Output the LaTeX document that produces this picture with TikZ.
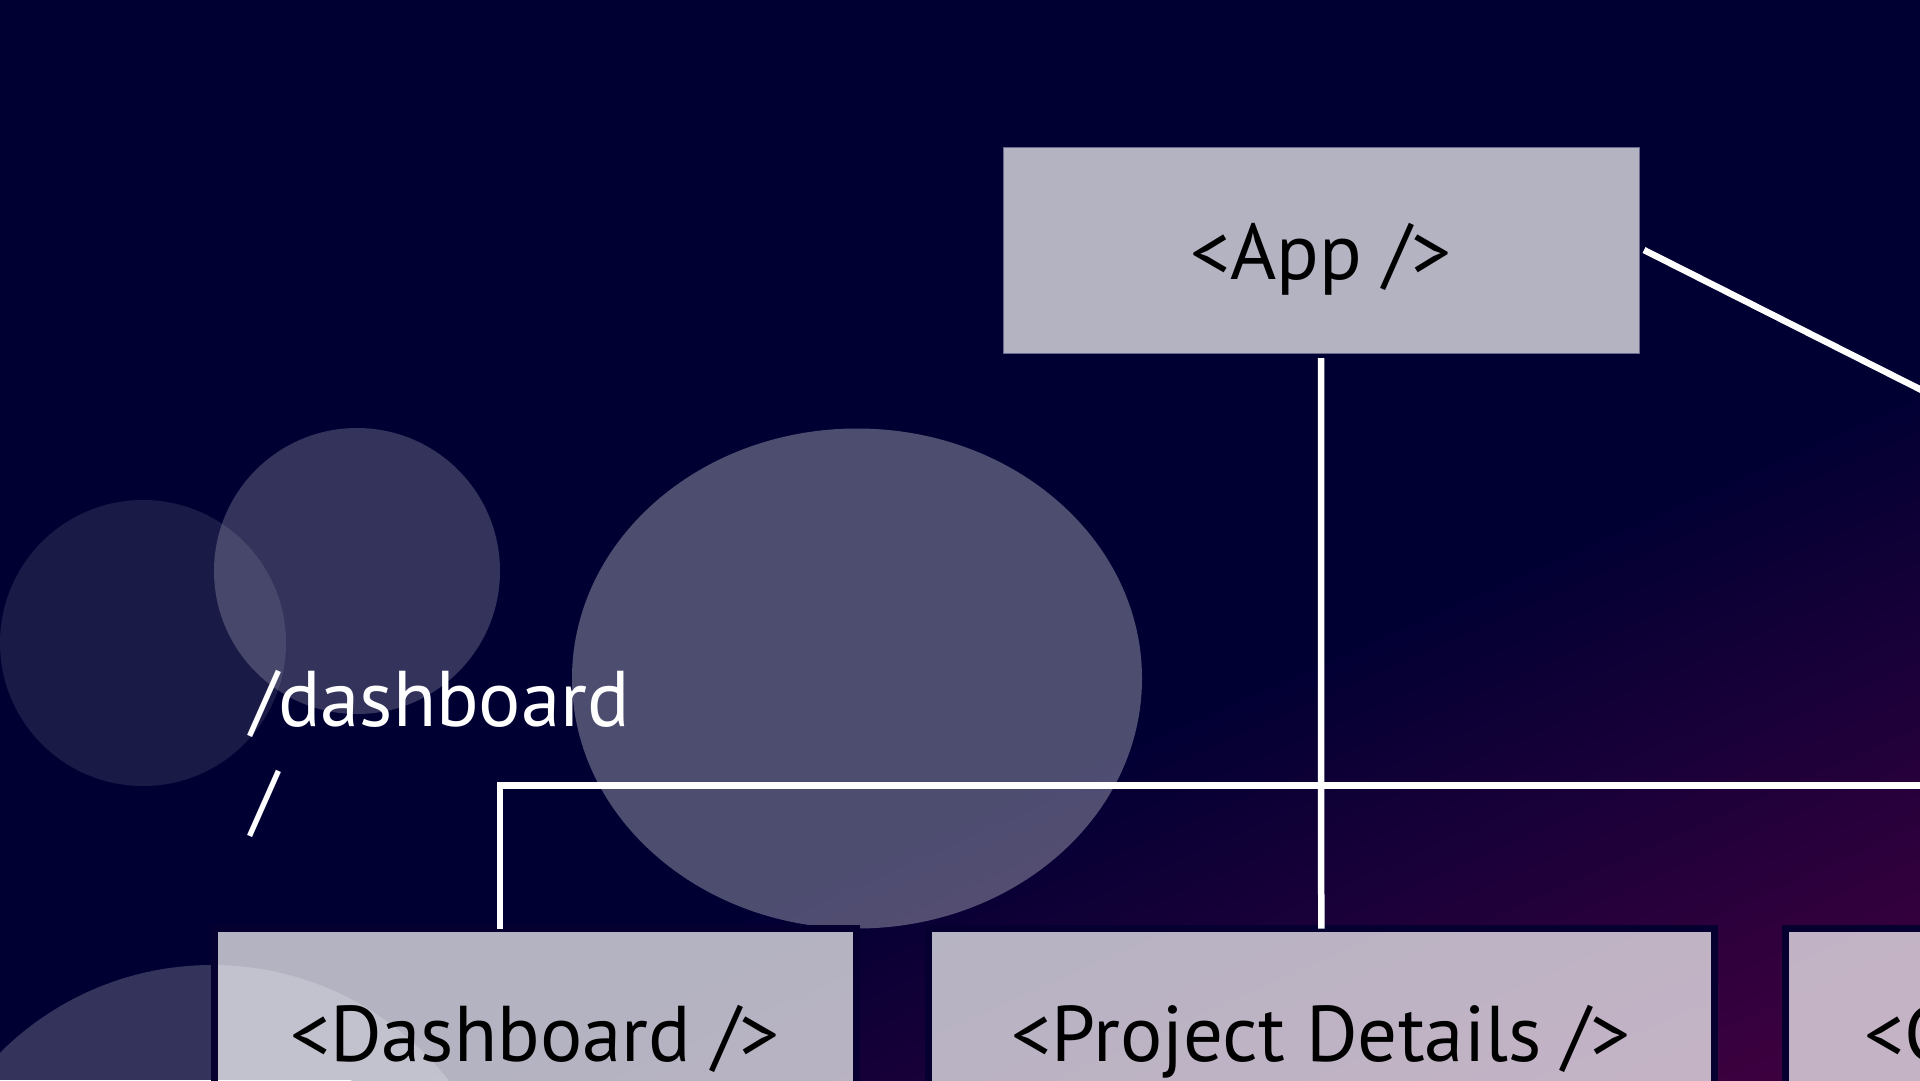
\documentclass[tikz,border=0pt]{standalone}
\usepackage{fontspec}
\setmainfont{PT Sans}
\usetikzlibrary{calc}
\definecolor{navybg}{HTML}{000033}
\definecolor{purpbg}{HTML}{3C003F}
\definecolor{boxedge}{HTML}{05002F}
\definecolor{appedge}{HTML}{6A6A8E}
\newcommand\lblfont{\fontsize{79}{100}\selectfont}
\tikzset{
  comptext/.style={font=\lblfont, text=black, text height=70pt, text depth=11pt},
  comp/.style={rectangle, fill=white, fill opacity=0.7, text opacity=1,
    draw=boxedge, draw opacity=1, line width=7pt, outer sep=0pt,
    minimum height=206pt, inner sep=0pt, comptext},
  rootcomp/.style={rectangle, fill=white, fill opacity=0.7, text opacity=1,
    draw=appedge, draw opacity=1, line width=1pt, outer sep=5pt,
    minimum width=636pt, minimum height=206pt, inner sep=0pt, comptext},
  conn/.style={draw=white, line width=6.5pt},
  bubble/.style={fill=white, fill opacity=#1}
}
\begin{document}
\begin{tikzpicture}[x=1pt,y=-1pt]
\useasboundingbox (0,0) rectangle (1920,1080);
\clip (0,0) rectangle (1920,1080);
% background gradient
\fill[navybg] (0,0) rectangle (1920,1080);
\foreach \i in {0,...,38} {
  \pgfmathsetmacro\gp{1130+15*\i}
  \pgfmathsetmacro\gt{min(100,100*(\i+0.5)/38)}
  \fill[purpbg!\gt!navybg, rotate=-66] (\gp,-3000) rectangle (5000,3000);
}
% translucent bubbles
\fill[bubble=0.1] (143,643) circle[radius=143pt];
\fill[bubble=0.2] (357,571) circle[radius=143pt];
\fill[bubble=0.3] (857,678.5) ellipse[x radius=285pt, y radius=250pt];
\fill[bubble=0.2] (212,1265) circle[radius=300pt];
% route label
\node[font=\lblfont, text=white, align=left, anchor=north west, inner sep=0pt] (route) at (250,670) {/dashboard\\/};
% components
\node[rootcomp] (app) at (1321,250) {<App />};
\node[comp, minimum width=642pt] (dash) at (535,1031.5) {<Dashboard />};
\node[comp, minimum width=785.5pt] (pd) at (1321.25,1031.5) {<Project Details />};
\node[comp, minimum width=785.5pt, anchor=west] (cre) at (1785.5,1031.5) {};
\node[comptext, anchor=west, inner sep=0pt] (crelbl) at (1864,1031.5) {<C};
\coordinate (offR) at (2300,581);
% connectors
\draw[conn] (app.south) -- (pd.north);
\draw[conn] (app.south) |- ($(dash.north)+(-35,-143)$) -- ($(dash.north)+(-35,0)$);
\draw[conn] (app.south) |- ($(cre.north)+(-35,-143)$) -- ($(cre.north)+(-35,0)$);
\draw[conn] (app.east) -- (offR);
\end{tikzpicture}
\end{document}
